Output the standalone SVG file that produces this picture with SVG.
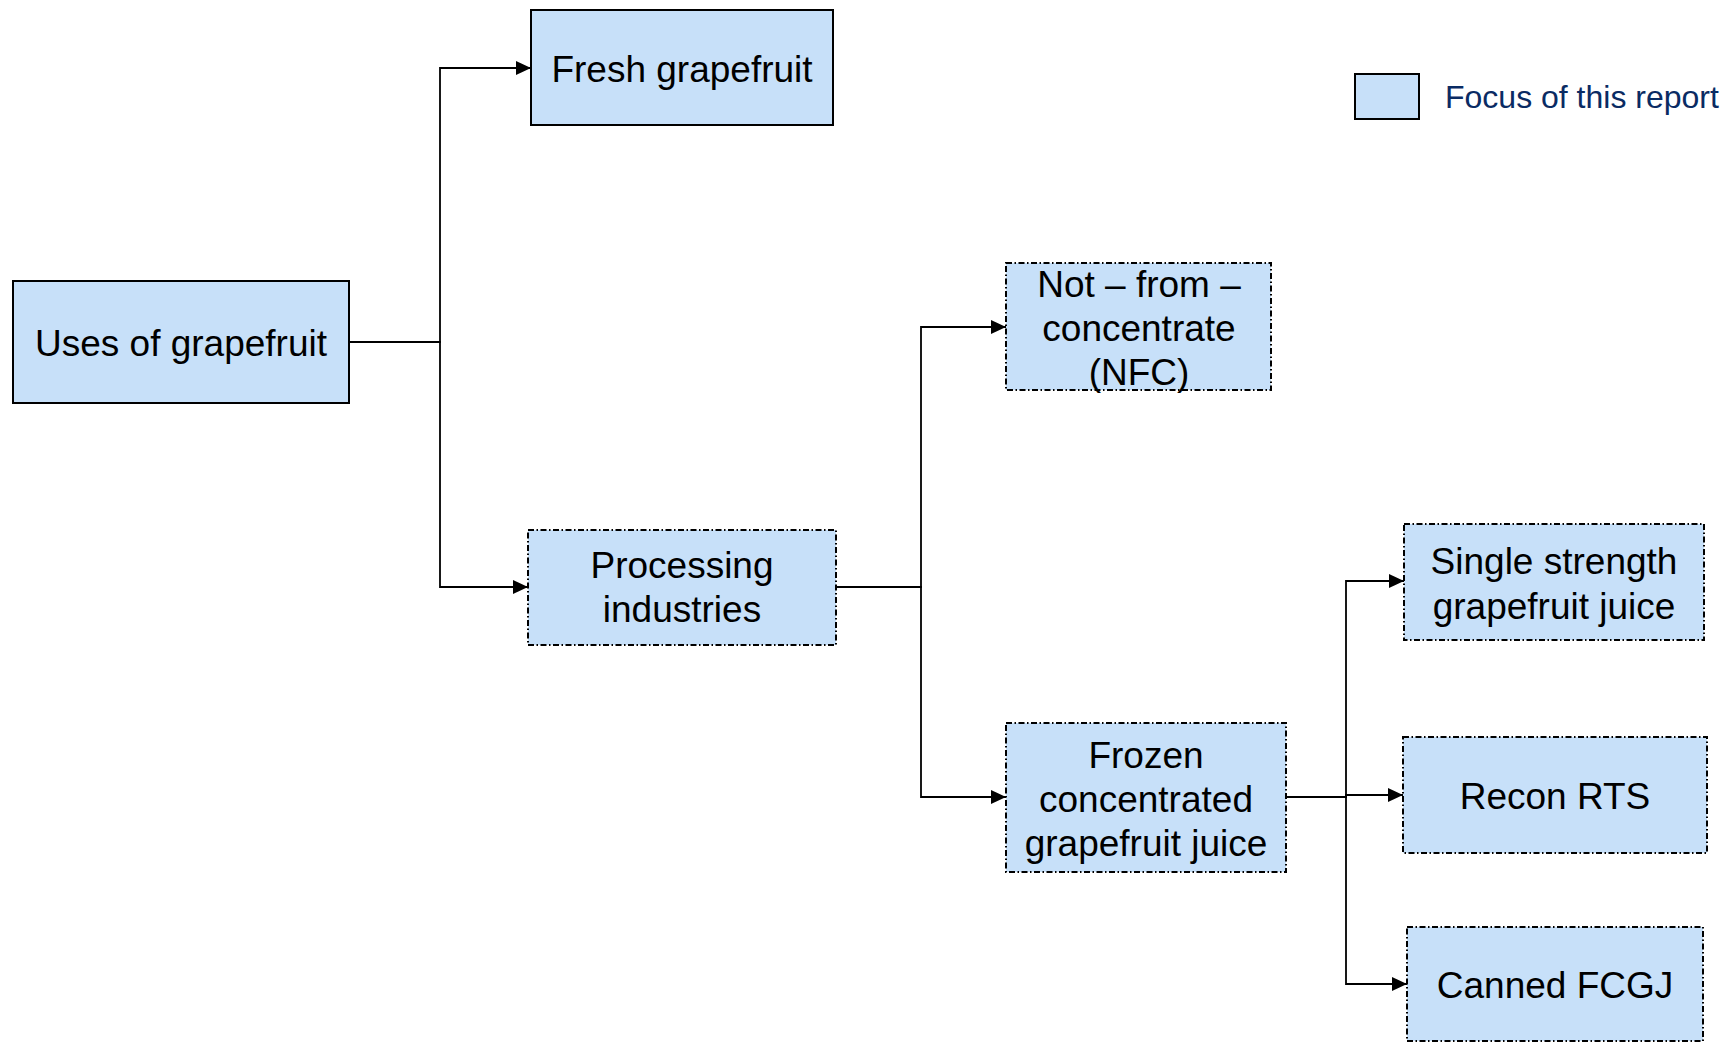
<svg xmlns="http://www.w3.org/2000/svg" width="1730" height="1044" viewBox="0 0 1730 1044">
<style>
.box{fill:#C7E0F9;stroke:#000;stroke-width:2}
.dbox{fill:#C7E0F9;stroke:#000;stroke-width:2;stroke-dasharray:6 2.5 1.5 2.5}
.t{font-family:"Liberation Sans",Arial,sans-serif;font-size:37px;fill:#000;text-anchor:middle}
.c{fill:none;stroke:#000;stroke-width:1.8}
.leg{font-family:"Liberation Sans",Arial,sans-serif;font-size:32px;fill:#0A2B63}
</style>
<defs>
<marker id="arr" markerUnits="userSpaceOnUse" markerWidth="15" markerHeight="14" refX="15" refY="7" orient="auto">
<path d="M0,0 L15,7 L0,14 z" fill="#000"/>
</marker>
</defs>
<rect width="1730" height="1044" fill="#fff"/>
<g id="connectors">
<path class="c" d="M349,342 H440 V68 H531" marker-end="url(#arr)"/>
<path class="c" d="M349,342 H440 V587 H528" marker-end="url(#arr)"/>
<path class="c" d="M836,587 H921 V327 H1006" marker-end="url(#arr)"/>
<path class="c" d="M836,587 H921 V797 H1006" marker-end="url(#arr)"/>
<path class="c" d="M1286,797 H1346 V581 H1404" marker-end="url(#arr)"/>
<path class="c" d="M1286,797 H1346 V795 H1403" marker-end="url(#arr)"/>
<path class="c" d="M1286,797 H1346 V984 H1407" marker-end="url(#arr)"/>
</g>
<g id="uses">
<rect class="box" x="13" y="281" width="336" height="122"/>
<text class="t" x="181" y="356">Uses of grapefruit</text>
</g>
<g id="fresh">
<rect class="box" x="531" y="10" width="302" height="115"/>
<text class="t" x="682" y="82">Fresh grapefruit</text>
</g>
<g id="processing">
<rect class="dbox" x="528" y="530" width="308" height="115"/>
<text class="t" x="682" y="578">Processing</text>
<text class="t" x="682" y="622">industries</text>
</g>
<g id="nfc">
<rect class="dbox" x="1006" y="263" width="265" height="127"/>
<text class="t" x="1139" y="297">Not – from –</text>
<text class="t" x="1139" y="341">concentrate</text>
<text class="t" x="1139" y="385">(NFC)</text>
</g>
<g id="fcgj">
<rect class="dbox" x="1006" y="723" width="280" height="149"/>
<text class="t" x="1146" y="768">Frozen</text>
<text class="t" x="1146" y="812">concentrated</text>
<text class="t" x="1146" y="856">grapefruit juice</text>
</g>
<g id="single">
<rect class="dbox" x="1404" y="524" width="300" height="116"/>
<text class="t" x="1554" y="574">Single strength</text>
<text class="t" x="1554" y="619">grapefruit juice</text>
</g>
<g id="recon">
<rect class="dbox" x="1403" y="737" width="304" height="116"/>
<text class="t" x="1555" y="809">Recon RTS</text>
</g>
<g id="canned">
<rect class="dbox" x="1407" y="927" width="296" height="114"/>
<text class="t" x="1555" y="998">Canned FCGJ</text>
</g>
<g id="legend">
<rect class="box" x="1355" y="74" width="64" height="45"/>
<text class="leg" x="1445" y="108">Focus of this report</text>
</g>
</svg>
